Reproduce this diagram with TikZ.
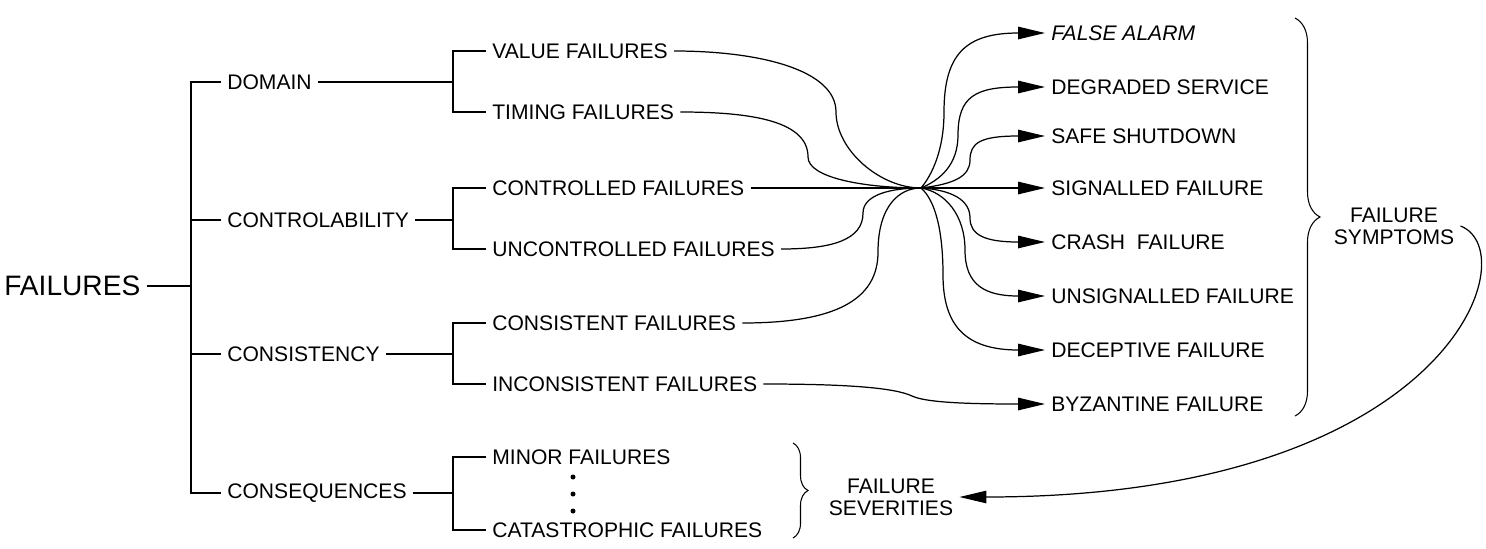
\documentclass[tikz,border=0pt]{standalone}
\usepackage{fontspec}
\setmainfont{Liberation Sans}
\usetikzlibrary{arrows.meta, decorations.pathreplacing}

\begin{document}
\begin{tikzpicture}[
    x=0.02cm, y=-0.02cm,
    every node/.style={font=\fontsize{12}{12.5}\selectfont},
    lbl/.style={anchor=west, inner xsep=0.12cm, inner ysep=0pt},
    grp/.style={align=center, inner xsep=0.12cm, inner ysep=0pt},
    wire/.style={draw, line width=0.7pt},
    arr/.style={wire, -{Triangle[length=0.54cm, width=0.25cm]}},
    brc/.style={draw, line width=0.6pt, decorate, decoration={brace, amplitude=#1}},
    vdot/.style={circle, fill, inner sep=0pt, minimum size=0.1cm},
  ]
    \useasboundingbox (0,0) rectangle (1486,548);
    % root and first level
    \node[lbl, font=\fontsize{16}{18}\selectfont] (fail) at (-2,286) {FAILURES};
    \coordinate (root) at (191,286);
    \foreach \y/\name/\lab in {82/dom/DOMAIN, 220/ctl/CONTROLABILITY,
      354/cst/CONSISTENCY, 493/csq/CONSEQUENCES}
        \node[lbl] (\name) at (221,\y) {\lab};
    \draw[wire] (fail.east) -- (root);
    \draw[wire] (dom.west) -- (dom.west -| root) -- (csq.west -| root) -- (csq.west);
    \draw[wire] (ctl.west) -- (ctl.west -| root);
    \draw[wire] (cst.west) -- (cst.west -| root);
    % second level
    \coordinate (fork) at (453,0);
    \foreach \y/\name/\lab in {51/val/VALUE FAILURES, 112/tim/TIMING FAILURES,
      188/cnt/CONTROLLED FAILURES, 249/unc/UNCONTROLLED FAILURES,
      323/csf/CONSISTENT FAILURES, 384/inc/INCONSISTENT FAILURES,
      457/mnr/MINOR FAILURES, 530/cat/CATASTROPHIC FAILURES}
        \node[lbl] (\name) at (486,\y) {\lab};
    \foreach \p/\a/\b in {dom/val/tim, ctl/cnt/unc, cst/csf/inc, csq/mnr/cat}
      \draw[wire] (\p.east) -- (\p.east -| fork)
        (\a.west) -- (\a.west -| fork) -- (\b.west -| fork) -- (\b.west);
    \foreach \y [count=\i] in {477,494,511}
      \node[vdot] (d\i) at (573,\y) {};
    % symptoms
    \coordinate (hub) at (921,188);
    \foreach \y/\name/\lab in {33/fal/{\itshape FALSE ALARM}, 87/deg/DEGRADED SERVICE,
      136/saf/SAFE SHUTDOWN, 188/sig/SIGNALLED FAILURE, 242/crs/{CRASH\ \ FAILURE},
      296/uns/UNSIGNALLED FAILURE, 350/dec/DECEPTIVE FAILURE, 404/byz/BYZANTINE FAILURE}
        \node[lbl] (\name) at (1045,\y) {\lab};
    % into the hub
    \draw[wire] (val.east) .. controls (760,51) and (836,70) .. (836,112)
                           .. controls (836,150) and (880,188) .. (hub);
    \draw[wire] (tim.east) .. controls (755,112) and (808,122) .. (808,157)
                           .. controls (808,178) and (865,188) .. (hub);
    \draw[arr] (cnt.east) -- (hub) -- (sig.west);
    \draw[wire] (unc.east) .. controls (832,249) and (863,240) .. (863,213)
                           .. controls (863,195) and (890,188) .. (hub);
    \draw[wire] (csf.east) .. controls (835,323) and (878,300) .. (878,252)
                           .. controls (878,205) and (900,188) .. (hub);
    % out of the hub
    \draw[arr] (hub) .. controls (932,175) and (944,150) .. (944,112)
                     .. controls (944,55) and (965,33) .. (fal.west);
    \draw[arr] (hub) .. controls (940,180) and (958,165) .. (958,135)
                     .. controls (958,97) and (975,87) .. (deg.west);
    \draw[arr] (hub) .. controls (955,184) and (970,176) .. (970,160)
                     .. controls (970,143) and (980,136) .. (saf.west);
    \draw[arr] (hub) .. controls (952,190) and (970,200) .. (970,218)
                     .. controls (970,235) and (985,242) .. (crs.west);
    \draw[arr] (hub) .. controls (945,192) and (965,215) .. (965,250)
                     .. controls (965,285) and (985,296) .. (uns.west);
    \draw[arr] (hub) .. controls (935,200) and (943,230) .. (943,275)
                     .. controls (943,325) and (965,350) .. (dec.west);
    \draw[arr] (inc.east) .. controls (850,384) and (895,388) .. (912,396)
                          .. controls (925,402) and (960,404) .. (byz.west);
    % braces and group labels
    \coordinate (symtop) at (1295,18);
    \coordinate (symbot) at (1295,416);
    \draw[brc=0.5cm] (symtop) -- (symbot);
    \node[grp] (sym) at (1394,226) {FAILURE\\SYMPTOMS};
    \coordinate (sevtop) at (793,443);
    \coordinate (sevbot) at (793,538);
    \draw[brc=0.3cm] (sevtop) -- (sevbot);
    \node[grp] (sev) at (891,497) {FAILURE\\SEVERITIES};
    \draw[arr] (sym.east) .. controls (1528,252) and (1450,497) .. (sev.east);
  \end{tikzpicture}
\end{document}
